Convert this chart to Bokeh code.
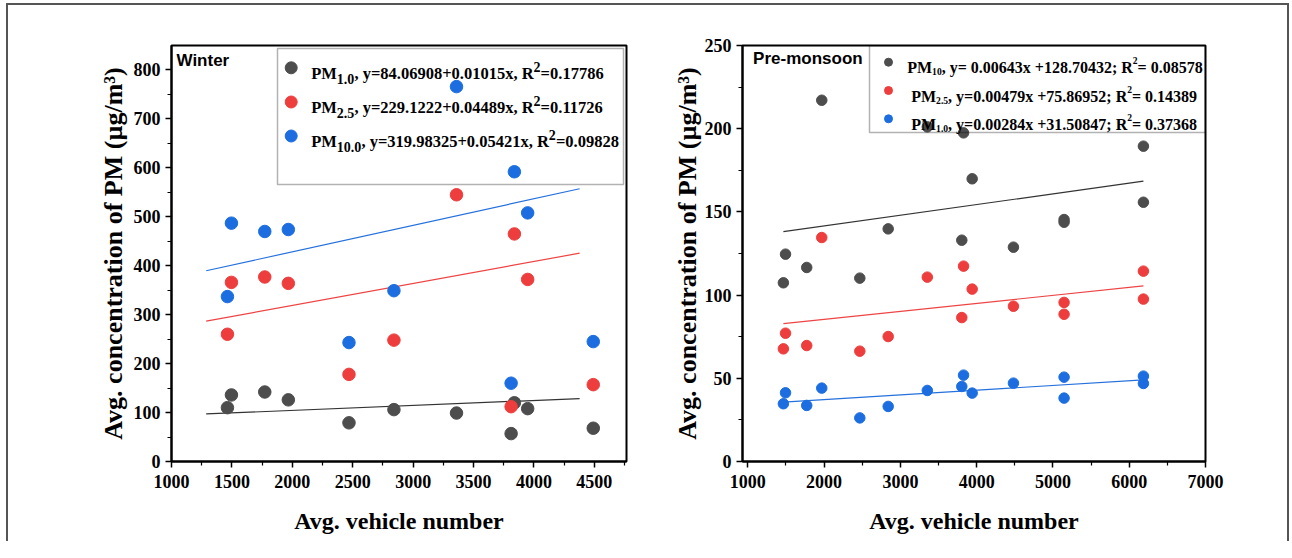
from bokeh.plotting import figure
from bokeh.models import FixedTicker, BoxAnnotation, ColumnDataSource
from bokeh.layouts import row
from bokeh.embed import file_html
from bokeh.resources import INLINE
from bokeh.core.properties import value

# ---------------- data ----------------
# Winter
winter_x = [1463, 1496, 1772, 1967, 2469, 2841, 3359, 3811, 3838, 3948, 4491]
winter_pm1 = [110, 136, 142, 126, 79, 106, 99, 57, 120, 108, 68]
winter_pm25 = [260, 366, 377, 364, 178, 248, 545, 112, 465, 372, 157]
winter_pm10 = [337, 487, 470, 474, 243, 349, 766, 160, 592, 508, 245]
winter_names = ["1.0", "2.5", "10.0"]
winter_intercept = [84.06908, 229.1222, 319.98325]
winter_slope = [0.01015, 0.04489, 0.05421]
winter_r2 = ["0.17786", "0.11726", "0.09828"]
winter_fit_x = [1287, 4378]

# Pre-monsoon
pre_x = [1466, 1494, 1772, 1969, 2468, 2840, 3353, 3805, 3828, 3941, 4482, 5146, 5146, 6186, 6186]
pre_pm10 = [107.4, 124.6, 116.6, 217.1, 110.2, 139.8, 201.1, 133.0, 197.5, 169.9, 128.8, 145.4, 143.8, 189.5, 155.8]
pre_pm25 = [67.7, 77.1, 69.7, 134.6, 66.3, 75.1, 110.8, 86.5, 117.4, 103.6, 93.3, 95.6, 88.5, 114.4, 97.6]
pre_pm1 = [34.7, 41.3, 33.7, 44.1, 26.2, 33.1, 42.7, 45.1, 51.9, 41.1, 47.1, 50.7, 38.1, 51.3, 46.9]
pre_names = ["10", "2.5", "1.0"]
pre_slope = [0.00643, 0.00479, 0.00284]
pre_intercept = [128.70432, 75.86952, 31.50847]
pre_eq = ["y= 0.00643x +128.70432; R", "y=0.00479x +75.86952; R", "y=0.00284x +31.50847; R"]
pre_r2 = ["= 0.08578", "= 0.14389", "= 0.37368"]

winter_xticks = [1000, 1500, 2000, 2500, 3000, 3500, 4000, 4500]
winter_xminor = [1250, 1750, 2250, 2750, 3250, 3750, 4250, 4750]
winter_yticks = [0, 100, 200, 300, 400, 500, 600, 700, 800]
winter_yminor = [50, 150, 250, 350, 450, 550, 650, 750]
pre_xticks = [1000, 2000, 3000, 4000, 5000, 6000, 7000]
pre_xminor = [1500, 2500, 3500, 4500, 5500, 6500]
pre_yticks = [0, 50, 100, 150, 200, 250]
pre_yminor = [25, 75, 125, 175, 225]

# ---------------- style ----------------
GRAY = "#4d4d4d"
RED = "#ee3d3d"
BLUE = "#1c6ee0"
LGRAY = "#333333"
LRED = "#ee4444"
LBLUE = "#2470dc"

# Times/Liberation Serif Bold advance widths (1/1000 em)
TW = {' ': 250, ',': 250, '.': 250, '/': 278, ';': 333, '=': 570, '+': 570,
      '(': 333, ')': 333, 'P': 611, 'M': 944, 'R': 722, 'x': 500, 'y': 500}


def text_width(s, size):
    return sum(TW.get(c, 500) for c in s) * size / 1000.0


def make_fig(xr, yr, ml, mr, fw, mt, fh, mb):
    p = figure(width=ml + fw + mr, height=mt + fh + mb, x_range=xr, y_range=yr,
               output_backend="svg", toolbar_location=None,
               min_border_left=ml, min_border_right=mr, min_border_top=mt, min_border_bottom=mb)
    p.xgrid.visible = False
    p.ygrid.visible = False
    p.outline_line_color = "black"
    p.outline_line_width = 2
    p.outline_line_alpha = 1
    p.background_fill_color = "white"
    p.border_fill_color = "white"
    for ax in (p.xaxis[0], p.yaxis[0]):
        ax.axis_line_width = 2
        ax.axis_line_color = "black"
        ax.major_tick_line_width = 1.5
        ax.major_tick_out = 6
        ax.major_tick_in = 0
        ax.minor_tick_line_width = 1.2
        ax.minor_tick_out = 4
        ax.minor_tick_in = 0
        ax.major_label_text_font = "Liberation Sans Narrow"
        ax.major_label_text_font_style = "bold"
        ax.major_label_text_font_size = "18px"
        ax.major_label_text_color = "black"
        ax.axis_label_text_font = "Liberation Serif"
        ax.axis_label_text_font_style = "bold"
        ax.axis_label_text_color = "black"
    p.xaxis.axis_label = "Avg. vehicle number"
    p.xaxis.axis_label_text_font_size = "24px"
    p.xaxis.major_label_standoff = 7
    p.yaxis.axis_label = "Avg. concentration of PM (µg/m³)"
    p.yaxis.axis_label_text_font_size = "26px"
    return p


def to_data(p_range, frame_size, px, flip=False):
    lo, hi = p_range
    if flip:
        return hi - px / frame_size * (hi - lo)
    return lo + px / frame_size * (hi - lo)


def legend_row(p, x, y, segments, size, sub_scale, sub_dy, sup_dy):
    xs, ys, texts, xo, yo, fs = [], [], [], [], [], []
    off = 0.0
    for txt, kind in segments:
        s = size if kind == "n" else size * sub_scale
        d = 0 if kind == "n" else (sub_dy if kind == "sub" else sup_dy)
        xs.append(x)
        ys.append(y)
        texts.append(txt)
        xo.append(off)
        yo.append(d + size * 0.36)
        fs.append(f"{s:.1f}px")
        off += text_width(txt, s)
    src = ColumnDataSource(dict(x=xs, y=ys, text=texts, xo=xo, yo=yo, fs=fs))
    p.text("x", "y", text="text", x_offset="xo", y_offset="yo", text_font_size="fs",
           source=src, text_font=value("Liberation Serif"), text_font_style="bold",
           text_baseline="alphabetic", text_align="left", text_color="black")


TOP = 40
BOTTOM = 80

# ---------------- Winter ----------------
W_XR = (1000, 4766)
W_YR = (0, 850)
W_FW, W_FH = 455, 416
p1 = make_fig(W_XR, W_YR, 163, 40, W_FW, TOP, W_FH, BOTTOM)
p1.xaxis.ticker = FixedTicker(ticks=winter_xticks, minor_ticks=winter_xminor)
p1.yaxis.ticker = FixedTicker(ticks=winter_yticks, minor_ticks=winter_yminor)
p1.yaxis.axis_label_standoff = 3
p1.xaxis.axis_label_standoff = 17

w_series = [(winter_pm1, GRAY, LGRAY), (winter_pm25, RED, LRED), (winter_pm10, BLUE, LBLUE)]
for (ys, c, lc), a, b in zip(w_series, winter_intercept, winter_slope):
    p1.line(winter_fit_x, [a + b * xv for xv in winter_fit_x], line_color=lc, line_width=1.2)
for ys, c, lc in w_series:
    p1.scatter(winter_x, ys, size=12.5, fill_color=c, line_color=c)

wx = lambda px: to_data(W_XR, W_FW, px)
wy = lambda px: to_data(W_YR, W_FH, px, flip=True)
p1.add_layout(BoxAnnotation(left=wx(106), right=wx(452), top=wy(3), bottom=wy(139),
                            fill_alpha=0, line_color="black", line_width=1.5))
p1.text([wx(5)], [wy(15)], text=["Winter"], text_font=value("Liberation Sans"),
        text_font_style="bold", text_font_size="17px", text_baseline="middle", text_color="black")
w_rows = [22.3, 56.5, 90.5]
w_cols = [GRAY, RED, BLUE]
for i in range(3):
    p1.scatter([wx(119.7)], [wy(w_rows[i])], size=12, fill_color=w_cols[i], line_color=w_cols[i])
    segs = [("PM", "n"), (winter_names[i], "sub"),
            (f", y={winter_intercept[i]}+{winter_slope[i]}x, R", "n"), ("2", "sup"),
            ("=" + winter_r2[i], "n")]
    legend_row(p1, wx(139.7), wy(w_rows[i]), segs, 16.5, 0.85, 5, -7)

# ---------------- Pre-monsoon ----------------
P_XR = (930, 7000)
P_YR = (0, 250)
P_FW, P_FH = 463, 416
p2 = make_fig(P_XR, P_YR, 76, 82, P_FW, TOP, P_FH, BOTTOM)
p2.xaxis.ticker = FixedTicker(ticks=pre_xticks, minor_ticks=pre_xminor)
p2.yaxis.ticker = FixedTicker(ticks=pre_yticks, minor_ticks=pre_yminor)
p2.yaxis.axis_label_standoff = 0
p2.xaxis.axis_label_standoff = 17

p_series = [(pre_pm10, GRAY, LGRAY), (pre_pm25, RED, LRED), (pre_pm1, BLUE, LBLUE)]
fit_x = [min(pre_x), max(pre_x)]
for (ys, c, lc), a, b in zip(p_series, pre_intercept, pre_slope):
    p2.line(fit_x, [a + b * xv for xv in fit_x], line_color=lc, line_width=1.2)
for ys, c, lc in p_series:
    p2.scatter(pre_x, ys, size=10.5, fill_color=c, line_color=c)

qx = lambda px: to_data(P_XR, P_FW, px)
qy = lambda px: to_data(P_YR, P_FH, px, flip=True)
p2.add_layout(BoxAnnotation(left=qx(127), right=qx(P_FW), top=qy(0), bottom=qy(87),
                            fill_alpha=0, line_color="black", line_width=1.5))
p2.text([qx(10.6)], [qy(13)], text=["Pre-monsoon"], text_font=value("Liberation Sans"),
        text_font_style="bold", text_font_size="17px", text_baseline="middle", text_color="black")
p_rows = [16.7, 45, 73.3]
p_text_x = [164.7, 168.7, 168.7]
p_cols = [GRAY, RED, BLUE]
for i in range(3):
    p2.scatter([qx(146)], [qy(p_rows[i])], size=8, fill_color=p_cols[i], line_color=p_cols[i])
    segs = [("PM", "n"), (pre_names[i], "sub"), (", " + pre_eq[i], "n"), ("2", "sup"),
            (pre_r2[i], "n")]
    legend_row(p2, qx(p_text_x[i]), qy(p_rows[i]), segs, 16, 0.6, 4, -7)

layout = row(p1, p2, styles={"border-top": "2px solid #555", "border-left": "2px solid #555",
                             "border-right": "2px solid #555", "margin-left": "6px",
                             "margin-top": "3px"})

open("out.html", "w").write(file_html(layout, INLINE))
